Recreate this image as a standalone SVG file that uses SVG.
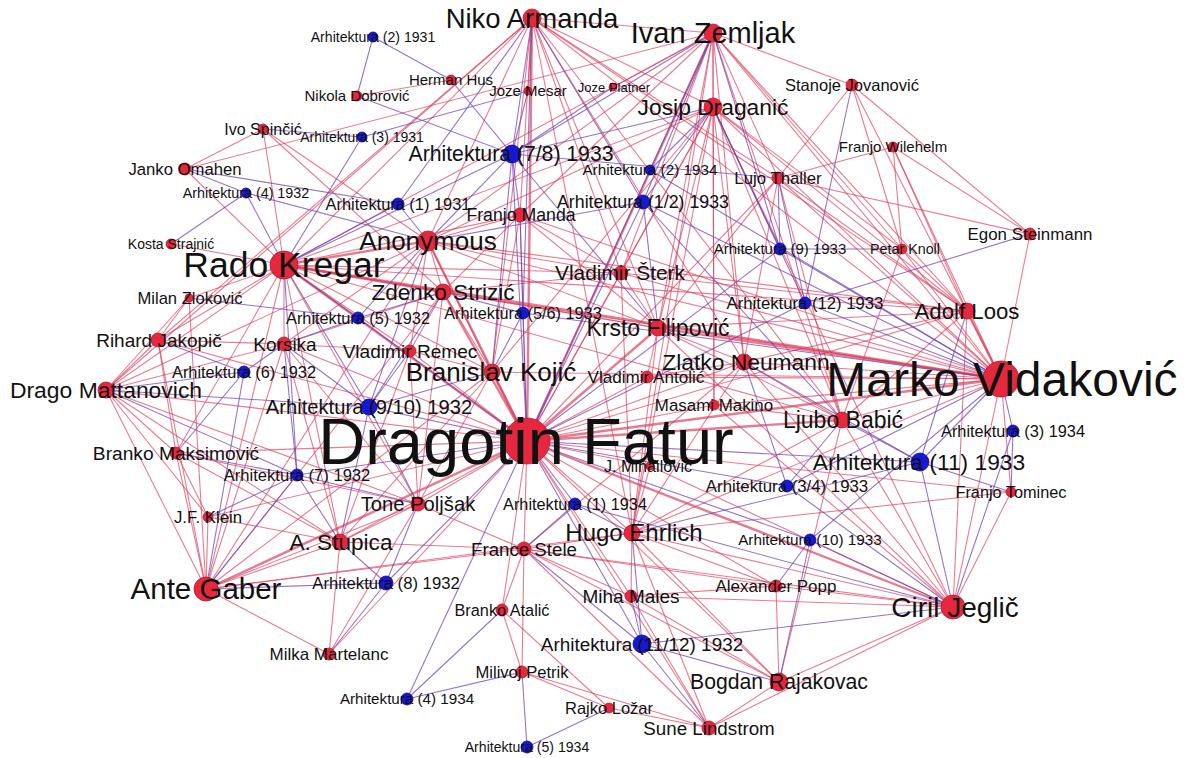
<svg xmlns="http://www.w3.org/2000/svg" width="1189" height="758" viewBox="0 0 1189 758">
<style>
.bg{fill:#fff}
#edges line{stroke-width:1.1;fill:none}
#edges .r{stroke:#dc3c5c;stroke-opacity:.68}
#edges .p{stroke:#6b3fb3;stroke-opacity:.72}
#edges .t{stroke-width:2.4}
.red circle{fill:#e6283f;stroke:#b3182c;stroke-width:.8}
.blue circle{fill:#1717d6;stroke:#0b0b8a;stroke-width:.8}
text{font-family:"Liberation Sans",Arial,sans-serif;fill:#111;text-anchor:middle}
</style>
<rect class="bg" x="0" y="0" width="1189" height="758"/>
<g id="edges">
<line class="r" x1="532" y1="18" x2="713" y2="33"/>
<line class="r" x1="532" y1="18" x2="528" y2="91"/>
<line class="r" x1="532" y1="18" x2="520" y2="215"/>
<line class="r t" x1="532" y1="18" x2="527" y2="441"/>
<line class="r" x1="532" y1="18" x2="621" y2="273"/>
<line class="r" x1="532" y1="18" x2="658" y2="328"/>
<line class="r" x1="532" y1="18" x2="744" y2="362"/>
<line class="r" x1="532" y1="18" x2="842" y2="420"/>
<line class="r" x1="532" y1="18" x2="1001" y2="379"/>
<line class="r" x1="532" y1="18" x2="967" y2="311"/>
<line class="r" x1="532" y1="18" x2="713" y2="107"/>
<line class="r" x1="532" y1="18" x2="284" y2="265"/>
<line class="r" x1="532" y1="18" x2="428" y2="241"/>
<line class="r" x1="532" y1="18" x2="106" y2="390"/>
<line class="r" x1="532" y1="18" x2="492" y2="372"/>
<line class="r" x1="532" y1="18" x2="632" y2="533"/>
<line class="r" x1="532" y1="18" x2="778" y2="178"/>
<line class="r" x1="532" y1="18" x2="158" y2="340"/>
<line class="r" x1="713" y1="33" x2="713" y2="107"/>
<line class="r" x1="713" y1="33" x2="613" y2="87"/>
<line class="r" x1="713" y1="33" x2="778" y2="178"/>
<line class="r" x1="713" y1="33" x2="852" y2="85"/>
<line class="r" x1="713" y1="33" x2="658" y2="328"/>
<line class="r" x1="713" y1="33" x2="621" y2="273"/>
<line class="r" x1="713" y1="33" x2="744" y2="362"/>
<line class="r" x1="713" y1="33" x2="1001" y2="379"/>
<line class="r" x1="713" y1="33" x2="967" y2="311"/>
<line class="r" x1="713" y1="33" x2="842" y2="420"/>
<line class="r t" x1="713" y1="33" x2="527" y2="441"/>
<line class="r" x1="713" y1="33" x2="520" y2="215"/>
<line class="r" x1="713" y1="33" x2="428" y2="241"/>
<line class="r" x1="713" y1="33" x2="284" y2="265"/>
<line class="r" x1="713" y1="33" x2="632" y2="533"/>
<line class="r" x1="713" y1="33" x2="902" y2="249"/>
<line class="r" x1="713" y1="33" x2="714" y2="405"/>
<line class="r" x1="713" y1="33" x2="185" y2="169"/>
<line class="r" x1="713" y1="107" x2="527" y2="441"/>
<line class="r" x1="713" y1="107" x2="658" y2="328"/>
<line class="r" x1="713" y1="107" x2="621" y2="273"/>
<line class="r" x1="713" y1="107" x2="744" y2="362"/>
<line class="r" x1="713" y1="107" x2="1001" y2="379"/>
<line class="r" x1="713" y1="107" x2="967" y2="311"/>
<line class="r" x1="713" y1="107" x2="842" y2="420"/>
<line class="r" x1="713" y1="107" x2="632" y2="533"/>
<line class="r" x1="713" y1="107" x2="284" y2="265"/>
<line class="r" x1="713" y1="107" x2="428" y2="241"/>
<line class="r" x1="713" y1="107" x2="902" y2="249"/>
<line class="r" x1="713" y1="107" x2="953" y2="607"/>
<line class="r" x1="713" y1="107" x2="492" y2="372"/>
<line class="r" x1="713" y1="107" x2="714" y2="405"/>
<line class="r" x1="852" y1="85" x2="778" y2="178"/>
<line class="r" x1="852" y1="85" x2="1030" y2="234"/>
<line class="r" x1="852" y1="85" x2="1001" y2="379"/>
<line class="r" x1="852" y1="85" x2="902" y2="249"/>
<line class="r" x1="893" y1="147" x2="1030" y2="234"/>
<line class="r" x1="893" y1="147" x2="902" y2="249"/>
<line class="r" x1="893" y1="147" x2="967" y2="311"/>
<line class="r" x1="893" y1="147" x2="1001" y2="379"/>
<line class="r" x1="893" y1="147" x2="778" y2="178"/>
<line class="r" x1="778" y1="178" x2="1030" y2="234"/>
<line class="r" x1="778" y1="178" x2="1001" y2="379"/>
<line class="r" x1="778" y1="178" x2="967" y2="311"/>
<line class="r" x1="778" y1="178" x2="527" y2="441"/>
<line class="r" x1="778" y1="178" x2="658" y2="328"/>
<line class="r" x1="778" y1="178" x2="744" y2="362"/>
<line class="r" x1="778" y1="178" x2="842" y2="420"/>
<line class="r" x1="1030" y1="234" x2="1001" y2="379"/>
<line class="r" x1="902" y1="249" x2="1001" y2="379"/>
<line class="r" x1="902" y1="249" x2="967" y2="311"/>
<line class="r" x1="902" y1="249" x2="842" y2="420"/>
<line class="r t" x1="967" y1="311" x2="1001" y2="379"/>
<line class="r" x1="967" y1="311" x2="527" y2="441"/>
<line class="r" x1="967" y1="311" x2="658" y2="328"/>
<line class="r" x1="967" y1="311" x2="744" y2="362"/>
<line class="r" x1="967" y1="311" x2="842" y2="420"/>
<line class="r" x1="967" y1="311" x2="621" y2="273"/>
<line class="r" x1="967" y1="311" x2="284" y2="265"/>
<line class="r" x1="967" y1="311" x2="428" y2="241"/>
<line class="r" x1="967" y1="311" x2="953" y2="607"/>
<line class="r t" x1="1001" y1="379" x2="527" y2="441"/>
<line class="r t" x1="1001" y1="379" x2="284" y2="265"/>
<line class="r" x1="1001" y1="379" x2="428" y2="241"/>
<line class="r t" x1="1001" y1="379" x2="658" y2="328"/>
<line class="r" x1="1001" y1="379" x2="744" y2="362"/>
<line class="r" x1="1001" y1="379" x2="621" y2="273"/>
<line class="r" x1="1001" y1="379" x2="842" y2="420"/>
<line class="r" x1="1001" y1="379" x2="953" y2="607"/>
<line class="r" x1="1001" y1="379" x2="1011" y2="492"/>
<line class="r" x1="1001" y1="379" x2="632" y2="533"/>
<line class="r" x1="1001" y1="379" x2="443" y2="292"/>
<line class="r" x1="1001" y1="379" x2="492" y2="372"/>
<line class="r" x1="1001" y1="379" x2="714" y2="405"/>
<line class="r" x1="1001" y1="379" x2="647" y2="377"/>
<line class="r" x1="1001" y1="379" x2="520" y2="215"/>
<line class="r t" x1="842" y1="420" x2="527" y2="441"/>
<line class="r" x1="842" y1="420" x2="953" y2="607"/>
<line class="r" x1="842" y1="420" x2="744" y2="362"/>
<line class="r" x1="842" y1="420" x2="658" y2="328"/>
<line class="r" x1="842" y1="420" x2="632" y2="533"/>
<line class="r" x1="842" y1="420" x2="284" y2="265"/>
<line class="r" x1="842" y1="420" x2="779" y2="682"/>
<line class="r" x1="744" y1="362" x2="527" y2="441"/>
<line class="r" x1="744" y1="362" x2="658" y2="328"/>
<line class="r" x1="744" y1="362" x2="953" y2="607"/>
<line class="r" x1="744" y1="362" x2="632" y2="533"/>
<line class="r" x1="744" y1="362" x2="647" y2="377"/>
<line class="r" x1="744" y1="362" x2="524" y2="549"/>
<line class="r t" x1="658" y1="328" x2="527" y2="441"/>
<line class="r" x1="658" y1="328" x2="621" y2="273"/>
<line class="r" x1="658" y1="328" x2="284" y2="265"/>
<line class="r" x1="658" y1="328" x2="428" y2="241"/>
<line class="r" x1="658" y1="328" x2="443" y2="292"/>
<line class="r" x1="658" y1="328" x2="632" y2="533"/>
<line class="r" x1="658" y1="328" x2="953" y2="607"/>
<line class="r" x1="658" y1="328" x2="520" y2="215"/>
<line class="r" x1="621" y1="273" x2="527" y2="441"/>
<line class="r" x1="621" y1="273" x2="520" y2="215"/>
<line class="r" x1="621" y1="273" x2="428" y2="241"/>
<line class="r" x1="621" y1="273" x2="284" y2="265"/>
<line class="r" x1="621" y1="273" x2="632" y2="533"/>
<line class="r" x1="621" y1="273" x2="443" y2="292"/>
<line class="r" x1="520" y1="215" x2="527" y2="441"/>
<line class="r" x1="520" y1="215" x2="428" y2="241"/>
<line class="r" x1="520" y1="215" x2="284" y2="265"/>
<line class="r" x1="520" y1="215" x2="492" y2="372"/>
<line class="r" x1="520" y1="215" x2="443" y2="292"/>
<line class="r t" x1="428" y1="241" x2="527" y2="441"/>
<line class="r t" x1="428" y1="241" x2="284" y2="265"/>
<line class="r" x1="428" y1="241" x2="443" y2="292"/>
<line class="r" x1="428" y1="241" x2="492" y2="372"/>
<line class="r" x1="428" y1="241" x2="410" y2="351"/>
<line class="r" x1="428" y1="241" x2="284" y2="344"/>
<line class="r" x1="428" y1="241" x2="106" y2="390"/>
<line class="r" x1="428" y1="241" x2="206" y2="589"/>
<line class="r" x1="428" y1="241" x2="263" y2="129"/>
<line class="r t" x1="284" y1="265" x2="527" y2="441"/>
<line class="r" x1="284" y1="265" x2="185" y2="169"/>
<line class="r" x1="284" y1="265" x2="171" y2="244"/>
<line class="r" x1="284" y1="265" x2="189" y2="298"/>
<line class="r" x1="284" y1="265" x2="158" y2="340"/>
<line class="r" x1="284" y1="265" x2="284" y2="344"/>
<line class="r" x1="284" y1="265" x2="106" y2="390"/>
<line class="r" x1="284" y1="265" x2="206" y2="589"/>
<line class="r t" x1="284" y1="265" x2="443" y2="292"/>
<line class="r" x1="284" y1="265" x2="410" y2="351"/>
<line class="r" x1="284" y1="265" x2="492" y2="372"/>
<line class="r" x1="284" y1="265" x2="176" y2="453"/>
<line class="r" x1="284" y1="265" x2="340" y2="542"/>
<line class="r" x1="284" y1="265" x2="418" y2="504"/>
<line class="r" x1="284" y1="265" x2="263" y2="129"/>
<line class="r" x1="263" y1="129" x2="185" y2="169"/>
<line class="r" x1="263" y1="129" x2="443" y2="292"/>
<line class="r t" x1="443" y1="292" x2="527" y2="441"/>
<line class="r" x1="443" y1="292" x2="492" y2="372"/>
<line class="r" x1="443" y1="292" x2="410" y2="351"/>
<line class="r" x1="443" y1="292" x2="284" y2="344"/>
<line class="r" x1="443" y1="292" x2="206" y2="589"/>
<line class="r" x1="443" y1="292" x2="418" y2="504"/>
<line class="r t" x1="492" y1="372" x2="527" y2="441"/>
<line class="r" x1="492" y1="372" x2="410" y2="351"/>
<line class="r" x1="492" y1="372" x2="340" y2="542"/>
<line class="r" x1="492" y1="372" x2="206" y2="589"/>
<line class="r" x1="492" y1="372" x2="418" y2="504"/>
<line class="r" x1="410" y1="351" x2="527" y2="441"/>
<line class="r" x1="410" y1="351" x2="284" y2="344"/>
<line class="r" x1="410" y1="351" x2="418" y2="504"/>
<line class="r" x1="410" y1="351" x2="340" y2="542"/>
<line class="r" x1="284" y1="344" x2="527" y2="441"/>
<line class="r" x1="284" y1="344" x2="158" y2="340"/>
<line class="r" x1="284" y1="344" x2="106" y2="390"/>
<line class="r" x1="284" y1="344" x2="206" y2="589"/>
<line class="r" x1="284" y1="344" x2="340" y2="542"/>
<line class="r" x1="284" y1="344" x2="418" y2="504"/>
<line class="r" x1="158" y1="340" x2="106" y2="390"/>
<line class="r" x1="158" y1="340" x2="527" y2="441"/>
<line class="r" x1="158" y1="340" x2="206" y2="589"/>
<line class="r" x1="158" y1="340" x2="176" y2="453"/>
<line class="r" x1="158" y1="340" x2="189" y2="298"/>
<line class="r" x1="189" y1="298" x2="106" y2="390"/>
<line class="r" x1="189" y1="298" x2="206" y2="589"/>
<line class="r" x1="106" y1="390" x2="527" y2="441"/>
<line class="r" x1="106" y1="390" x2="176" y2="453"/>
<line class="r" x1="106" y1="390" x2="206" y2="589"/>
<line class="r" x1="106" y1="390" x2="340" y2="542"/>
<line class="r" x1="106" y1="390" x2="208" y2="517"/>
<line class="r" x1="106" y1="390" x2="418" y2="504"/>
<line class="r" x1="176" y1="453" x2="527" y2="441"/>
<line class="r" x1="176" y1="453" x2="206" y2="589"/>
<line class="r" x1="176" y1="453" x2="340" y2="542"/>
<line class="r" x1="176" y1="453" x2="208" y2="517"/>
<line class="r" x1="176" y1="453" x2="418" y2="504"/>
<line class="r" x1="208" y1="517" x2="206" y2="589"/>
<line class="r" x1="208" y1="517" x2="527" y2="441"/>
<line class="r" x1="208" y1="517" x2="340" y2="542"/>
<line class="r t" x1="206" y1="589" x2="527" y2="441"/>
<line class="r" x1="206" y1="589" x2="340" y2="542"/>
<line class="r" x1="206" y1="589" x2="418" y2="504"/>
<line class="r" x1="206" y1="589" x2="329" y2="654"/>
<line class="r" x1="206" y1="589" x2="524" y2="549"/>
<line class="r" x1="206" y1="589" x2="632" y2="533"/>
<line class="r" x1="340" y1="542" x2="527" y2="441"/>
<line class="r" x1="340" y1="542" x2="418" y2="504"/>
<line class="r" x1="340" y1="542" x2="329" y2="654"/>
<line class="r" x1="340" y1="542" x2="524" y2="549"/>
<line class="r" x1="418" y1="504" x2="527" y2="441"/>
<line class="r" x1="418" y1="504" x2="329" y2="654"/>
<line class="r" x1="418" y1="504" x2="524" y2="549"/>
<line class="r" x1="329" y1="654" x2="527" y2="441"/>
<line class="r" x1="527" y1="441" x2="524" y2="549"/>
<line class="r" x1="527" y1="441" x2="632" y2="533"/>
<line class="r" x1="527" y1="441" x2="631" y2="596"/>
<line class="r" x1="527" y1="441" x2="779" y2="682"/>
<line class="r" x1="527" y1="441" x2="709" y2="728"/>
<line class="r t" x1="527" y1="441" x2="953" y2="607"/>
<line class="r" x1="527" y1="441" x2="776" y2="586"/>
<line class="r" x1="527" y1="441" x2="714" y2="405"/>
<line class="r" x1="527" y1="441" x2="647" y2="377"/>
<line class="r" x1="527" y1="441" x2="650" y2="466"/>
<line class="r" x1="527" y1="441" x2="502" y2="610"/>
<line class="r" x1="527" y1="441" x2="1011" y2="492"/>
<line class="r" x1="524" y1="549" x2="632" y2="533"/>
<line class="r" x1="524" y1="549" x2="631" y2="596"/>
<line class="r" x1="524" y1="549" x2="779" y2="682"/>
<line class="r" x1="524" y1="549" x2="953" y2="607"/>
<line class="r" x1="524" y1="549" x2="776" y2="586"/>
<line class="r" x1="524" y1="549" x2="709" y2="728"/>
<line class="r" x1="524" y1="549" x2="502" y2="610"/>
<line class="r" x1="524" y1="549" x2="522" y2="672"/>
<line class="r" x1="632" y1="533" x2="631" y2="596"/>
<line class="r" x1="632" y1="533" x2="779" y2="682"/>
<line class="r" x1="632" y1="533" x2="709" y2="728"/>
<line class="r" x1="632" y1="533" x2="953" y2="607"/>
<line class="r" x1="632" y1="533" x2="776" y2="586"/>
<line class="r" x1="632" y1="533" x2="1011" y2="492"/>
<line class="r" x1="631" y1="596" x2="779" y2="682"/>
<line class="r" x1="631" y1="596" x2="709" y2="728"/>
<line class="r" x1="631" y1="596" x2="953" y2="607"/>
<line class="r" x1="631" y1="596" x2="776" y2="586"/>
<line class="r" x1="502" y1="610" x2="522" y2="672"/>
<line class="r" x1="502" y1="610" x2="609" y2="708"/>
<line class="r" x1="522" y1="672" x2="609" y2="708"/>
<line class="r" x1="522" y1="672" x2="709" y2="728"/>
<line class="r" x1="776" y1="586" x2="953" y2="607"/>
<line class="r" x1="776" y1="586" x2="779" y2="682"/>
<line class="r" x1="779" y1="682" x2="953" y2="607"/>
<line class="r" x1="779" y1="682" x2="709" y2="728"/>
<line class="r" x1="709" y1="728" x2="953" y2="607"/>
<line class="r" x1="709" y1="728" x2="609" y2="708"/>
<line class="r" x1="953" y1="607" x2="1011" y2="492"/>
<line class="r" x1="953" y1="607" x2="714" y2="405"/>
<line class="r" x1="647" y1="377" x2="658" y2="328"/>
<line class="r" x1="714" y1="405" x2="842" y2="420"/>
<line class="r" x1="650" y1="466" x2="953" y2="607"/>
<line class="r" x1="650" y1="466" x2="632" y2="533"/>
<line class="p" x1="373" y1="37" x2="357" y2="96"/>
<line class="p" x1="373" y1="37" x2="451" y2="80"/>
<line class="r" x1="357" y1="96" x2="451" y2="80"/>
<line class="p" x1="362" y1="137" x2="528" y2="91"/>
<line class="p" x1="362" y1="137" x2="284" y2="265"/>
<line class="p" x1="362" y1="137" x2="263" y2="129"/>
<line class="p" x1="512" y1="154" x2="357" y2="96"/>
<line class="p" x1="512" y1="154" x2="451" y2="80"/>
<line class="p" x1="512" y1="154" x2="528" y2="91"/>
<line class="p" x1="512" y1="154" x2="532" y2="18"/>
<line class="p" x1="512" y1="154" x2="520" y2="215"/>
<line class="p" x1="512" y1="154" x2="527" y2="441"/>
<line class="p" x1="512" y1="154" x2="428" y2="241"/>
<line class="p" x1="512" y1="154" x2="613" y2="87"/>
<line class="p" x1="512" y1="154" x2="284" y2="265"/>
<line class="p" x1="512" y1="154" x2="713" y2="107"/>
<line class="p" x1="512" y1="154" x2="713" y2="33"/>
<line class="p" x1="512" y1="154" x2="658" y2="328"/>
<line class="p" x1="512" y1="154" x2="492" y2="372"/>
<line class="p" x1="512" y1="154" x2="778" y2="178"/>
<line class="p" x1="650" y1="170" x2="713" y2="33"/>
<line class="p" x1="650" y1="170" x2="713" y2="107"/>
<line class="p" x1="650" y1="170" x2="1001" y2="379"/>
<line class="p" x1="650" y1="170" x2="527" y2="441"/>
<line class="p" x1="246" y1="193" x2="171" y2="244"/>
<line class="p" x1="246" y1="193" x2="284" y2="265"/>
<line class="p" x1="246" y1="193" x2="185" y2="169"/>
<line class="p" x1="246" y1="193" x2="428" y2="241"/>
<line class="p" x1="398" y1="204" x2="185" y2="169"/>
<line class="p" x1="398" y1="204" x2="428" y2="241"/>
<line class="p" x1="398" y1="204" x2="284" y2="265"/>
<line class="p" x1="398" y1="204" x2="532" y2="18"/>
<line class="p" x1="643" y1="202" x2="532" y2="18"/>
<line class="p" x1="643" y1="202" x2="713" y2="33"/>
<line class="p" x1="643" y1="202" x2="713" y2="107"/>
<line class="p" x1="643" y1="202" x2="527" y2="441"/>
<line class="p" x1="643" y1="202" x2="1001" y2="379"/>
<line class="p" x1="643" y1="202" x2="658" y2="328"/>
<line class="p" x1="643" y1="202" x2="428" y2="241"/>
<line class="p" x1="643" y1="202" x2="842" y2="420"/>
<line class="p" x1="780" y1="249" x2="902" y2="249"/>
<line class="p" x1="780" y1="249" x2="713" y2="33"/>
<line class="p" x1="780" y1="249" x2="713" y2="107"/>
<line class="p" x1="780" y1="249" x2="778" y2="178"/>
<line class="p" x1="780" y1="249" x2="527" y2="441"/>
<line class="p" x1="780" y1="249" x2="1001" y2="379"/>
<line class="p" x1="805" y1="303" x2="852" y2="85"/>
<line class="p" x1="805" y1="303" x2="1030" y2="234"/>
<line class="p" x1="805" y1="303" x2="1001" y2="379"/>
<line class="p" x1="805" y1="303" x2="778" y2="178"/>
<line class="p" x1="805" y1="303" x2="527" y2="441"/>
<line class="p" x1="805" y1="303" x2="713" y2="107"/>
<line class="p" x1="358" y1="318" x2="284" y2="265"/>
<line class="p" x1="358" y1="318" x2="443" y2="292"/>
<line class="p" x1="358" y1="318" x2="284" y2="344"/>
<line class="p" x1="358" y1="318" x2="527" y2="441"/>
<line class="p" x1="358" y1="318" x2="428" y2="241"/>
<line class="p" x1="358" y1="318" x2="189" y2="298"/>
<line class="p" x1="523" y1="313" x2="527" y2="441"/>
<line class="p" x1="523" y1="313" x2="492" y2="372"/>
<line class="p" x1="523" y1="313" x2="532" y2="18"/>
<line class="p" x1="523" y1="313" x2="443" y2="292"/>
<line class="p" x1="523" y1="313" x2="520" y2="215"/>
<line class="p" x1="523" y1="313" x2="1001" y2="379"/>
<line class="p" x1="244" y1="372" x2="158" y2="340"/>
<line class="p" x1="244" y1="372" x2="106" y2="390"/>
<line class="p" x1="244" y1="372" x2="176" y2="453"/>
<line class="p" x1="244" y1="372" x2="284" y2="344"/>
<line class="p" x1="244" y1="372" x2="206" y2="589"/>
<line class="p" x1="369" y1="407" x2="527" y2="441"/>
<line class="p" x1="369" y1="407" x2="284" y2="265"/>
<line class="p" x1="369" y1="407" x2="284" y2="344"/>
<line class="p" x1="369" y1="407" x2="410" y2="351"/>
<line class="p" x1="369" y1="407" x2="106" y2="390"/>
<line class="p" x1="369" y1="407" x2="443" y2="292"/>
<line class="p" x1="369" y1="407" x2="492" y2="372"/>
<line class="p" x1="369" y1="407" x2="340" y2="542"/>
<line class="p" x1="369" y1="407" x2="418" y2="504"/>
<line class="p" x1="369" y1="407" x2="428" y2="241"/>
<line class="p" x1="1013" y1="431" x2="1001" y2="379"/>
<line class="p" x1="1013" y1="431" x2="1011" y2="492"/>
<line class="p" x1="1013" y1="431" x2="953" y2="607"/>
<line class="p" x1="920" y1="462" x2="1001" y2="379"/>
<line class="p" x1="920" y1="462" x2="842" y2="420"/>
<line class="p" x1="920" y1="462" x2="953" y2="607"/>
<line class="p" x1="920" y1="462" x2="527" y2="441"/>
<line class="p" x1="920" y1="462" x2="744" y2="362"/>
<line class="p" x1="920" y1="462" x2="632" y2="533"/>
<line class="p" x1="920" y1="462" x2="967" y2="311"/>
<line class="p" x1="920" y1="462" x2="1011" y2="492"/>
<line class="p" x1="297" y1="475" x2="527" y2="441"/>
<line class="p" x1="297" y1="475" x2="284" y2="265"/>
<line class="p" x1="297" y1="475" x2="176" y2="453"/>
<line class="p" x1="297" y1="475" x2="206" y2="589"/>
<line class="p" x1="297" y1="475" x2="340" y2="542"/>
<line class="p" x1="297" y1="475" x2="208" y2="517"/>
<line class="p" x1="297" y1="475" x2="418" y2="504"/>
<line class="p" x1="297" y1="475" x2="284" y2="344"/>
<line class="p" x1="297" y1="475" x2="106" y2="390"/>
<line class="p" x1="575" y1="504" x2="527" y2="441"/>
<line class="p" x1="575" y1="504" x2="524" y2="549"/>
<line class="p" x1="575" y1="504" x2="632" y2="533"/>
<line class="p" x1="575" y1="504" x2="953" y2="607"/>
<line class="p" x1="787" y1="486" x2="527" y2="441"/>
<line class="p" x1="787" y1="486" x2="1001" y2="379"/>
<line class="p" x1="787" y1="486" x2="953" y2="607"/>
<line class="p" x1="787" y1="486" x2="744" y2="362"/>
<line class="p" x1="787" y1="486" x2="842" y2="420"/>
<line class="p" x1="810" y1="540" x2="776" y2="586"/>
<line class="p" x1="810" y1="540" x2="779" y2="682"/>
<line class="p" x1="810" y1="540" x2="527" y2="441"/>
<line class="p" x1="810" y1="540" x2="953" y2="607"/>
<line class="p" x1="810" y1="540" x2="1001" y2="379"/>
<line class="p" x1="386" y1="583" x2="206" y2="589"/>
<line class="p" x1="386" y1="583" x2="329" y2="654"/>
<line class="p" x1="386" y1="583" x2="340" y2="542"/>
<line class="p" x1="386" y1="583" x2="418" y2="504"/>
<line class="p" x1="386" y1="583" x2="527" y2="441"/>
<line class="p" x1="642" y1="644" x2="631" y2="596"/>
<line class="p" x1="642" y1="644" x2="632" y2="533"/>
<line class="p" x1="642" y1="644" x2="709" y2="728"/>
<line class="p" x1="642" y1="644" x2="524" y2="549"/>
<line class="p" x1="642" y1="644" x2="527" y2="441"/>
<line class="p" x1="642" y1="644" x2="953" y2="607"/>
<line class="p" x1="642" y1="644" x2="779" y2="682"/>
<line class="p" x1="407" y1="699" x2="527" y2="441"/>
<line class="p" x1="407" y1="699" x2="502" y2="610"/>
<line class="p" x1="407" y1="699" x2="522" y2="672"/>
<line class="p" x1="527" y1="747" x2="522" y2="672"/>
<line class="p" x1="527" y1="747" x2="609" y2="708"/>
</g>
<g id="n-arh-2-1931" class="blue"><circle cx="373" cy="37" r="5"/><text x="373" y="42" font-size="14.1">Arhitektura (2) 1931</text></g>
<g id="n-arh-3-1931" class="blue"><circle cx="362" cy="137" r="5"/><text x="362" y="142" font-size="14">Arhitektura (3) 1931</text></g>
<g id="n-arh-2-1934" class="blue"><circle cx="650" cy="170" r="5"/><text x="650" y="175.4" font-size="15.3">Arhitektura (2) 1934</text></g>
<g id="n-arh-4-1932" class="blue"><circle cx="246" cy="193" r="5"/><text x="246" y="198" font-size="14.3">Arhitektura (4) 1932</text></g>
<g id="n-arh-1-1931" class="blue"><circle cx="398" cy="204" r="6"/><text x="398" y="209.7" font-size="16.4">Arhitektura (1) 1931</text></g>
<g id="n-arh-1-2-1933" class="blue"><circle cx="643" cy="202" r="7"/><text x="643" y="208.2" font-size="17.8">Arhitektura (1/2) 1933</text></g>
<g id="n-arh-9-1933" class="blue"><circle cx="780" cy="249" r="6"/><text x="780" y="254.3" font-size="15">Arhitektura (9) 1933</text></g>
<g id="n-arh-12-1933" class="blue"><circle cx="805" cy="303" r="6"/><text x="805" y="308.8" font-size="16.7">Arhitektura (12) 1933</text></g>
<g id="n-arh-5-1932" class="blue"><circle cx="358" cy="318" r="6"/><text x="358" y="323.7" font-size="16.3">Arhitektura (5) 1932</text></g>
<g id="n-arh-5-6-1933" class="blue"><circle cx="523" cy="313" r="6"/><text x="523" y="318.7" font-size="16.3">Arhitektura (5/6) 1933</text></g>
<g id="n-arh-6-1932" class="blue"><circle cx="244" cy="372" r="6"/><text x="244" y="377.7" font-size="16.3">Arhitektura (6) 1932</text></g>
<g id="n-arh-3-1934" class="blue"><circle cx="1013" cy="431" r="6"/><text x="1013" y="436.7" font-size="16.3">Arhitektura (3) 1934</text></g>
<g id="n-arh-7-1932" class="blue"><circle cx="297" cy="475" r="6"/><text x="297" y="480.8" font-size="16.6">Arhitektura (7) 1932</text></g>
<g id="n-arh-1-1934" class="blue"><circle cx="575" cy="504" r="6"/><text x="575" y="509.7" font-size="16.3">Arhitektura (1) 1934</text></g>
<g id="n-arh-3-4-1933" class="blue"><circle cx="787" cy="486" r="6"/><text x="787" y="491.9" font-size="16.8">Arhitektura (3/4) 1933</text></g>
<g id="n-arh-10-1933" class="blue"><circle cx="810" cy="540" r="6"/><text x="810" y="545.4" font-size="15.3">Arhitektura (10) 1933</text></g>
<g id="n-arh-8-1932" class="blue"><circle cx="386" cy="583" r="7"/><text x="386" y="588.8" font-size="16.7">Arhitektura (8) 1932</text></g>
<g id="n-arh-4-1934" class="blue"><circle cx="407" cy="699" r="6"/><text x="407" y="704.3" font-size="15.2">Arhitektura (4) 1934</text></g>
<g id="n-arh-5-1934" class="blue"><circle cx="527" cy="747" r="6"/><text x="527" y="752" font-size="14.1">Arhitektura (5) 1934</text></g>
<g id="n-herman-hus" class="red"><circle cx="451" cy="80" r="5"/><text x="451" y="85" font-size="15">Herman Hus</text></g>
<g id="n-nikola-dobrovic" class="red"><circle cx="357" cy="96" r="5"/><text x="357" y="101" font-size="15">Nikola Dobrović</text></g>
<g id="n-joze-mesar" class="red"><circle cx="528" cy="91" r="4"/><text x="528" y="96" font-size="15">Joze Mesar</text></g>
<g id="n-joze-platner" class="red"><circle cx="613" cy="87" r="4"/><text x="614" y="91.5" font-size="13">Joze Platner</text></g>
<g id="n-stanoje-jovanovic" class="red"><circle cx="852" cy="85" r="6"/><text x="852" y="91" font-size="16.5">Stanoje Jovanović</text></g>
<g id="n-ivo-spincic" class="red"><circle cx="263" cy="129" r="5"/><text x="263" y="134.6" font-size="16">Ivo Spinčić</text></g>
<g id="n-janko-omahen" class="red"><circle cx="185" cy="169" r="6"/><text x="185" y="175" font-size="16.7">Janko Omahen</text></g>
<g id="n-franjo-wilehelm" class="red"><circle cx="893" cy="147" r="5"/><text x="893" y="152" font-size="15">Franjo Wilehelm</text></g>
<g id="n-lujo-thaller" class="red"><circle cx="778" cy="178" r="6"/><text x="778" y="184" font-size="16.8">Lujo Thaller</text></g>
<g id="n-franjo-manda" class="red"><circle cx="520" cy="215" r="7"/><text x="521" y="221" font-size="17.7">Franjo Manda</text></g>
<g id="n-kosta-strajnic" class="red"><circle cx="171" cy="244" r="5"/><text x="171" y="249" font-size="14">Kosta Strajnić</text></g>
<g id="n-egon-steinmann" class="red"><circle cx="1030" cy="234" r="6"/><text x="1030" y="240" font-size="16.9">Egon Steinmann</text></g>
<g id="n-petar-knoll" class="red"><circle cx="902" cy="249" r="5"/><text x="905" y="254" font-size="14.3">Petar Knoll</text></g>
<g id="n-milan-zlokovic" class="red"><circle cx="189" cy="298" r="4"/><text x="190" y="304" font-size="16.6">Milan Zloković</text></g>
<g id="n-rihard-jakopic" class="red"><circle cx="158" cy="340" r="7"/><text x="159" y="346.7" font-size="19">Rihard Jakopič</text></g>
<g id="n-korsika" class="red"><circle cx="284" cy="344" r="7"/><text x="285" y="350.7" font-size="19">Korsika</text></g>
<g id="n-vladimir-remec" class="red"><circle cx="410" cy="351" r="6"/><text x="410" y="357.7" font-size="19.1">Vladimir Remec</text></g>
<g id="n-vladimir-antolic" class="red"><circle cx="647" cy="377" r="6"/><text x="646" y="383" font-size="17.1">Vladimir Antolić</text></g>
<g id="n-masami-makino" class="red"><circle cx="714" cy="405" r="5"/><text x="714" y="411" font-size="16.9">Masami Makino</text></g>
<g id="n-branko-maksimovic" class="red"><circle cx="176" cy="453" r="6"/><text x="176" y="459.7" font-size="19.2">Branko Maksimović</text></g>
<g id="n-j-mihailovic" class="red"><circle cx="650" cy="466" r="4"/><text x="648" y="471.7" font-size="16.2">J. Mihailović</text></g>
<g id="n-franjo-tominec" class="red"><circle cx="1011" cy="492" r="5"/><text x="1011" y="497.7" font-size="16.3">Franjo Tominec</text></g>
<g id="n-j-f-klein" class="red"><circle cx="208" cy="517" r="5"/><text x="208" y="523" font-size="16.8">J.F. Klein</text></g>
<g id="n-france-stele" class="red"><circle cx="524" cy="549" r="7"/><text x="524" y="555.5" font-size="18.7">France Stele</text></g>
<g id="n-miha-males" class="red"><circle cx="631" cy="596" r="6"/><text x="631" y="602.7" font-size="19">Miha Males</text></g>
<g id="n-branko-atalic" class="red"><circle cx="502" cy="610" r="6"/><text x="502" y="615.7" font-size="16.3">Branko Atalić</text></g>
<g id="n-alexander-popp" class="red"><circle cx="776" cy="586" r="6"/><text x="776" y="592" font-size="17">Alexander Popp</text></g>
<g id="n-milka-martelanc" class="red"><circle cx="329" cy="654" r="6"/><text x="329" y="660" font-size="17">Milka Martelanc</text></g>
<g id="n-milivoj-petrik" class="red"><circle cx="522" cy="672" r="6"/><text x="522" y="677.8" font-size="16.6">Milivoj Petrik</text></g>
<g id="n-rajko-lozar" class="red"><circle cx="609" cy="708" r="5"/><text x="609" y="713.8" font-size="16.5">Rajko Ložar</text></g>
<g id="n-sune-lindstrom" class="red"><circle cx="709" cy="728" r="7"/><text x="709" y="734.6" font-size="18.8">Sune Lindstrom</text></g>
<g id="n-vladimir-sterk" class="red"><circle cx="621" cy="273" r="7"/><text x="620" y="280" font-size="20.9">Vladimir Šterk</text></g>
<g id="n-tone-poljsak" class="red"><circle cx="418" cy="504" r="7"/><text x="418" y="511" font-size="20.2">Tone Poljšak</text></g>
<g id="n-bogdan-rajakovac" class="red"><circle cx="779" cy="682" r="9"/><text x="779" y="689.4" font-size="21.2">Bogdan Rajakovac</text></g>
<g id="n-arh-7-8-1933" class="blue"><circle cx="512" cy="154" r="9"/><text x="511" y="161.4" font-size="21.2">Arhitektura (7/8) 1933</text></g>
<g id="n-arh-9-10-1932" class="blue"><circle cx="369" cy="407" r="8"/><text x="369" y="414" font-size="20.2">Arhitektura (9/10) 1932</text></g>
<g id="n-arh-11-1933" class="blue"><circle cx="920" cy="462" r="9"/><text x="919" y="470" font-size="22.8">Arhitektura (11) 1933</text></g>
<g id="n-arh-11-12-1932" class="blue"><circle cx="642" cy="644" r="9"/><text x="642" y="650.6" font-size="18.9">Arhitektura (11/12) 1932</text></g>
<g id="n-josip-draganic" class="red"><circle cx="713" cy="107" r="9"/><text x="713" y="115" font-size="22.8">Josip Draganić</text></g>
<g id="n-zdenko-strizic" class="red"><circle cx="443" cy="292" r="8"/><text x="443" y="300" font-size="22.6">Zdenko Strizić</text></g>
<g id="n-adolf-loos" class="red"><circle cx="967" cy="311" r="8"/><text x="967" y="319" font-size="22.2">Adolf Loos</text></g>
<g id="n-krsto-filipovic" class="red"><circle cx="658" cy="328" r="8"/><text x="658" y="336" font-size="23">Krsto Filipović</text></g>
<g id="n-zlatko-neumann" class="red"><circle cx="744" cy="362" r="8"/><text x="746" y="370" font-size="22.8">Zlatko Neumann</text></g>
<g id="n-branislav-kojic" class="red"><circle cx="492" cy="372" r="8"/><text x="491" y="381" font-size="26">Branislav Kojić</text></g>
<g id="n-drago-mattanovich" class="red"><circle cx="106" cy="390" r="8"/><text x="106" y="398" font-size="22.9">Drago Mattanovich</text></g>
<g id="n-ljubo-babic" class="red"><circle cx="842" cy="420" r="8"/><text x="843" y="428" font-size="23">Ljubo Babić</text></g>
<g id="n-hugo-ehrlich" class="red"><circle cx="632" cy="533" r="8"/><text x="634" y="541.4" font-size="24">Hugo Ehrlich</text></g>
<g id="n-a-stupica" class="red"><circle cx="340" cy="542" r="8"/><text x="341" y="550" font-size="22.6">A. Stupica</text></g>
<g id="n-anonymous" class="red"><circle cx="428" cy="241" r="10"/><text x="428" y="250" font-size="26">Anonymous</text></g>
<g id="n-niko-armanda" class="red"><circle cx="532" cy="18" r="9"/><text x="532" y="28" font-size="27.5">Niko Armanda</text></g>
<g id="n-ivan-zemljak" class="red"><circle cx="713" cy="33" r="9"/><text x="713" y="43" font-size="29">Ivan Zemljak</text></g>
<g id="n-rado-kregar" class="red"><circle cx="284" cy="265" r="14"/><text x="284" y="277.4" font-size="35.5">Rado Kregar</text></g>
<g id="n-ante-gaber" class="red"><circle cx="206" cy="589" r="12"/><text x="206" y="599.3" font-size="29.5">Ante Gaber</text></g>
<g id="n-ciril-jeglic" class="red"><circle cx="953" cy="607" r="12"/><text x="955" y="616.8" font-size="28">Ciril Jeglič</text></g>
<g id="n-marko-vidakovic" class="red"><circle cx="1001" cy="379" r="18"/><text x="1002" y="395.8" font-size="48">Marko Vidaković</text></g>
<g id="n-dragotin-fatur" class="red"><circle cx="527" cy="441" r="23"/><text x="526" y="463.8" font-size="65">Dragotin Fatur</text></g>
</svg>
